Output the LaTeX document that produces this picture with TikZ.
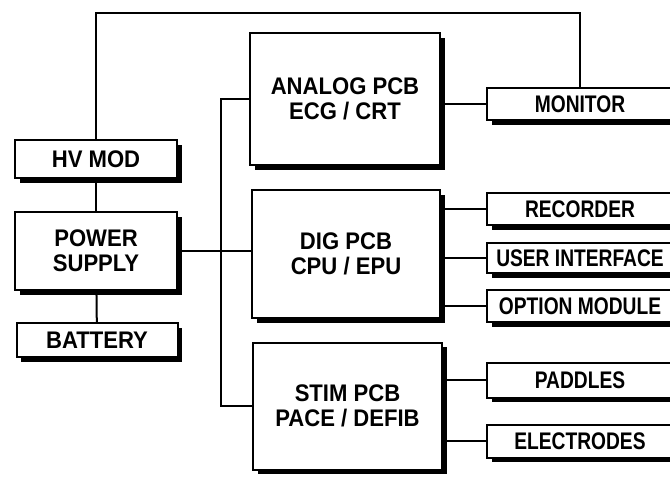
\documentclass[tikz,border=0pt]{standalone}
\usepackage{fontspec}
\setmainfont{Liberation Sans}[FakeStretch=0.92]
\newfontfamily\narrowsans{Liberation Sans}[FakeStretch=0.8]
\usetikzlibrary{shadows}

\begin{document}
\begin{tikzpicture}[x=1pt,y=-1pt,
  blk/.style={draw,fill=white,line width=2pt,inner sep=0pt,align=center,
    font=\fontsize{24}{25}\selectfont\bfseries,
    drop shadow={shadow xshift=4.5pt,shadow yshift=-4.5pt,fill=black,opacity=1}},
  side/.style={blk,minimum width=186pt,font=\fontsize{24}{25}\narrowsans\bfseries},
  wire/.style={line width=2pt}]
\useasboundingbox (0,0) rectangle (670,477);

% left column
\node[blk,minimum width=162pt,minimum height=38pt] (hv) at (96,159) {HV MOD};
\node[blk,minimum width=162pt,minimum height=78pt] (power) at (96,251) {POWER\\SUPPLY};
\node[blk,minimum width=161pt,minimum height=34pt] (batt) at (97,340) {BATTERY};

% boards
\node[blk,minimum width=190pt,minimum height=132pt] (analog) at (345,99) {ANALOG PCB\\ECG / CRT};
\node[blk,minimum width=188pt,minimum height=128pt] (dig) at (346,254) {DIG PCB\\CPU / EPU};
\node[blk,minimum width=189pt,minimum height=127pt] (stim) at (347.5,406) {STIM PCB\\PACE / DEFIB};

% right column
\node[side,minimum height=32pt] (mon) at (580,104) {MONITOR};
\node[side,minimum height=32pt] (rec) at (580,209) {RECORDER};
\node[side,minimum height=30pt] (ui) at (580,258) {USER INTERFACE};
\node[side,minimum height=32pt] (opt) at (580,306) {OPTION MODULE};
\node[side,minimum height=35pt] (pad) at (580,380) {PADDLES};
\node[side,minimum height=33pt] (elec) at (580,441) {ELECTRODES};

\coordinate (top) at (300,13);
\coordinate (bus) at (221,250);

\draw[wire] (hv.north) |- (top) -| (mon.north);
\draw[wire] (hv) -- (power);
\draw[wire] (power) -- (batt);
\draw[wire] (power.east) -- (power.east -| dig.west);
\draw[wire] (analog.west) -| (bus) |- (stim.west);
\draw[wire] (analog.east |- mon.west) -- (mon.west);
\draw[wire] (dig.east |- rec.west) -- (rec.west);
\draw[wire] (dig.east |- ui.west) -- (ui.west);
\draw[wire] (dig.east |- opt.west) -- (opt.west);
\draw[wire] (stim.east |- pad.west) -- (pad.west);
\draw[wire] (stim.east |- elec.west) -- (elec.west);
\end{tikzpicture}
\end{document}
